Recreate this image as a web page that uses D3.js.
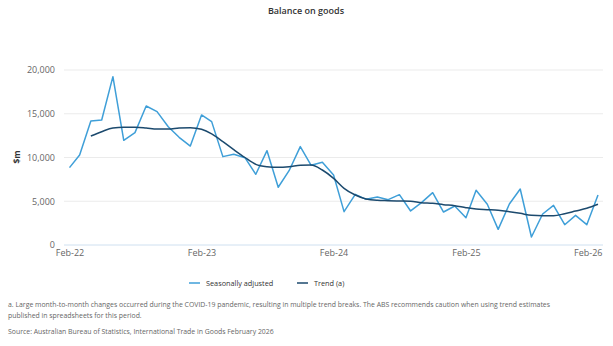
<!DOCTYPE html>
<html><head><meta charset="utf-8">
<script src="https://cdn.jsdelivr.net/npm/d3@7"></script>
<style>body{margin:0;background:#fff;} svg{display:block;font-family:"Open Sans","Noto Sans",sans-serif;}</style>
</head><body>
<svg id="c" width="613" height="346"></svg>
<script>
const startMonth = "2022-02";
const seasonallyAdjusted = [8840,10290,14170,14290,19240,11970,12840,15890,15240,13520,12310,11310,
 14860,14100,10100,10370,9980,8080,10780,6600,8490,11240,9110,9450,
 8000,3810,5790,5220,5490,5180,5750,3890,4840,5980,3770,4460,
 3120,6250,4650,1790,4690,6400,910,3540,4530,2320,3390,2320,5710];
const trend = [null,null,12460,12950,13370,13450,13450,13370,13260,13260,13370,13410,
 13220,12690,11810,10900,10000,9220,8950,8880,8950,9110,9150,8570,
 7620,6480,5710,5260,5110,5070,5030,4990,4840,4760,4610,4490,
 4270,4110,4040,3970,3810,3620,3390,3350,3350,3580,3880,4190,4650];
const yTicks = [0,5000,10000,15000,20000];
const xTickLabels = ["Feb-22","Feb-23","Feb-24","Feb-25","Feb-26"];
const seriesNames = ["Seasonally adjusted","Trend (a)"];
const footnote = ["a. Large month-to-month changes occurred during the COVID-19 pandemic, resulting in multiple trend breaks. The ABS recommends caution when using trend estimates",
 "published in spreadsheets for this period."];
const source = "Source: Australian Bureau of Statistics, International Trade in Goods February 2026";

const svg = d3.select("#c");
const parse = d3.timeParse("%Y-%m");
const t0 = parse(startMonth);
const dates = seasonallyAdjusted.map((_,i)=>d3.timeMonth.offset(t0,i));
const x = d3.scaleTime().domain([dates[0], dates[dates.length-1]]).range([69.5, 598]);
const y = d3.scaleLinear().domain([0,20000]).range([245,70]);

svg.append("text").attr("x",306).attr("y",14).attr("text-anchor","middle")
  .attr("font-size",9).attr("font-weight",600).attr("fill","#333").text("Balance on goods");

// grid
const gx0 = 64, gx1 = 603;
svg.append("g").selectAll("line").data(yTicks).join("line")
  .attr("x1",gx0).attr("x2",gx1).attr("y1",d=>y(d)).attr("y2",d=>y(d))
  .attr("stroke",d=>d===0?"#cfe0f0":"#ebebeb").attr("stroke-width",1);

// y axis labels
const yAxis = d3.axisLeft(y).tickValues(yTicks).tickSize(0).tickPadding(0).tickFormat(d3.format(","));
const ya = svg.append("g").attr("transform","translate(55,0)").call(yAxis);
ya.select(".domain").remove();
ya.selectAll("text").attr("font-size",9).attr("fill","#666").attr("font-family","'Open Sans',sans-serif");

svg.append("text").attr("transform","translate(20,157) rotate(-90)").attr("text-anchor","middle")
  .attr("font-size",8.5).attr("font-weight",700).attr("fill","#333").text("$m");

// x axis labels
const xTickDates = xTickLabels.map((_,i)=>d3.timeMonth.offset(t0,12*i));
const xAxis = d3.axisBottom(x).tickValues(xTickDates).tickSize(0).tickPadding(0).tickFormat((d,i)=>xTickLabels[i]);
const xa = svg.append("g").attr("transform","translate(0,250)").call(xAxis);
xa.select(".domain").remove();
xa.selectAll("text").attr("font-size",9).attr("fill","#666").attr("font-family","'Open Sans',sans-serif");
xa.selectAll(".tick").filter((d,i)=>i===xTickLabels.length-1).select("text")
  .attr("text-anchor","end").attr("dx",4);

const line = d3.line().defined(d=>d[1]!=null).x(d=>x(d[0])).y(d=>y(d[1]));
const curve = d3.line().defined(d=>d[1]!=null).x(d=>x(d[0])).y(d=>y(d[1])).curve(d3.curveMonotoneX);
svg.append("path").datum(dates.map((d,i)=>[d,seasonallyAdjusted[i]]))
  .attr("d",line).attr("fill","none").attr("stroke","#3f9fd8").attr("stroke-width",1.5).attr("stroke-linejoin","round");
svg.append("path").datum(dates.map((d,i)=>[d,trend[i]]))
  .attr("d",curve).attr("fill","none").attr("stroke","#1c4a6e").attr("stroke-width",1.5);

// legend
const leg = [{c:"#3f9fd8",x:189},{c:"#1c4a6e",x:297}];
leg.forEach((l,i)=>{
  svg.append("line").attr("x1",l.x).attr("x2",l.x+11).attr("y1",283).attr("y2",283).attr("stroke",l.c).attr("stroke-width",1.5);
  svg.append("text").attr("x",l.x+17).attr("y",286).attr("font-size",7.3).attr("fill","#333").text(seriesNames[i]);
});

footnote.forEach((f,i)=>{
  svg.append("text").attr("x",8).attr("y",307+i*11).attr("font-size",6.9).attr("fill","#666").text(f);
});
svg.append("text").attr("x",8).attr("y",334).attr("font-size",6.9).attr("fill","#666").text(source);
</script>
</body></html>
